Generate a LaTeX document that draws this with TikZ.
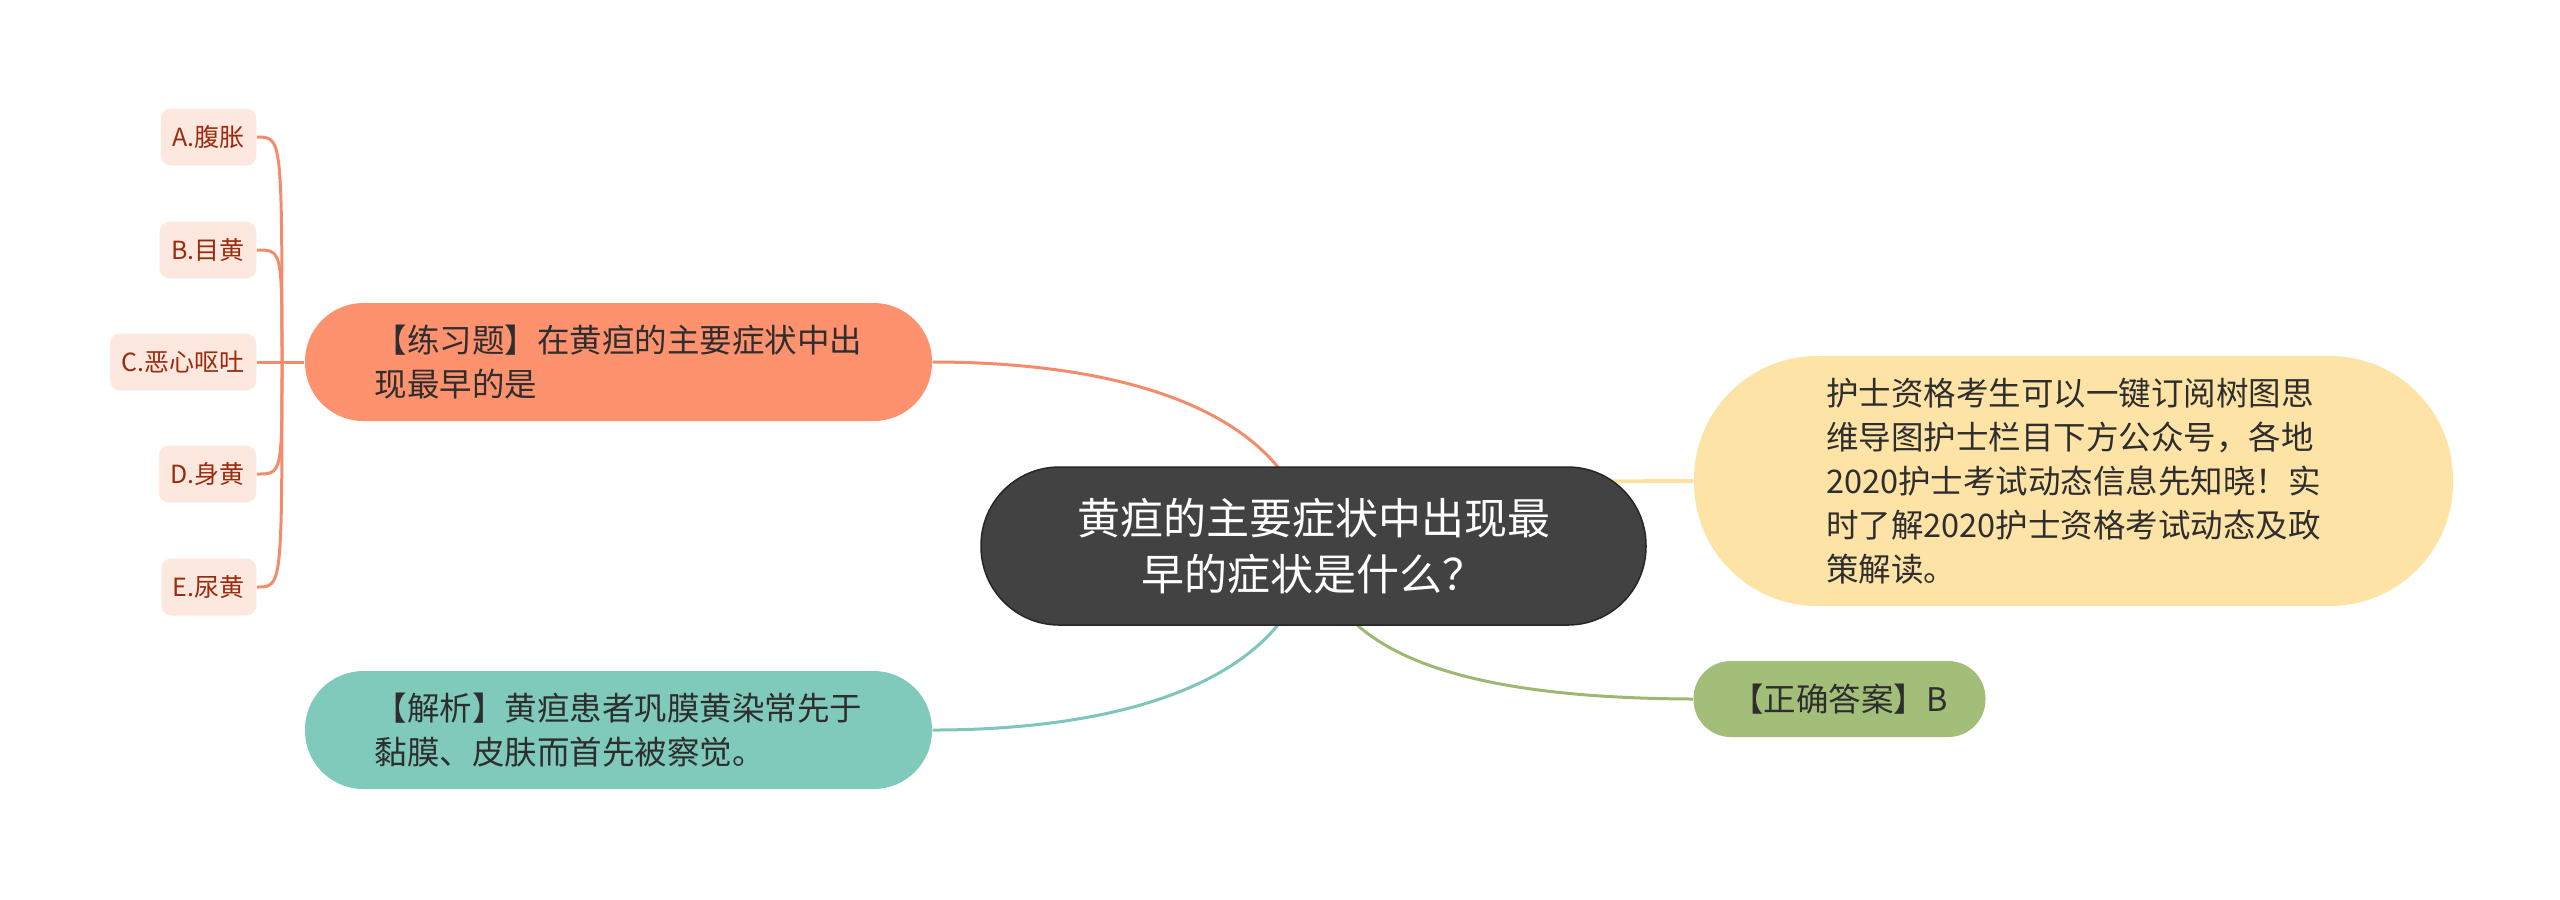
\documentclass[tikz,border=0pt]{standalone}
\usepackage{fontspec}
\setmainfont{Noto Sans CJK SC}
\usetikzlibrary{backgrounds}
\definecolor{topicfill}{HTML}{424242}
\definecolor{exfill}{HTML}{FE916E}
\definecolor{exline}{HTML}{F28C6C}
\definecolor{optfill}{HTML}{FDE8E0}
\definecolor{opttext}{HTML}{9C2B0E}
\definecolor{anfill}{HTML}{80CABC}
\definecolor{anline}{HTML}{7EC6B8}
\definecolor{yelfill}{HTML}{FEE3A7}
\definecolor{yelline}{HTML}{FCE2A2}
\definecolor{ansfill}{HTML}{A3BE78}
\definecolor{ansline}{HTML}{9DB870}
\definecolor{bodytext}{HTML}{2E2E2E}

\begin{document}
\begin{tikzpicture}
		[   x=0.3pt,y=-0.3pt,
		topic/.style={draw=black!85,line width=0.45pt,fill=topicfill,text=white,align=center,
			minimum width=199.5pt,minimum height=47.4pt,rounded corners=23.5pt,
			font=\fontsize{12.9pt}{16.8pt}\selectfont},
		bnode/.style={fill=#1,text=bodytext,align=left,inner sep=0pt,
			font=\fontsize{9.75pt}{13.2pt}\selectfont},
		opt/.style={fill=optfill,text=opttext,anchor=east,inner xsep=3.5pt,inner ysep=0pt,
			minimum height=17.1pt,rounded corners=3pt,font=\fontsize{7.5pt}{9pt}\selectfont},
		]
		\tikzset{branch line/.style={draw=#1,line width=0.9pt}}
		\useasboundingbox (0,0) rectangle (2560,899);
		
		\node[topic] (c) at (1313.5,546) {黄疸的主要症状中出现最\\早的症状是什么？};
		
		\node[bnode=exfill,minimum width=188.1pt,minimum height=35.4pt,rounded corners=17.5pt] (ex) at (618.5,362)
		{【练习题】在黄疸的主要症状中出\\现最早的是};
		\node[bnode=anfill,minimum width=188.1pt,minimum height=35.4pt,rounded corners=17.5pt] (an) at (618.5,730)
		{【解析】黄疸患者巩膜黄染常先于\\黏膜、皮肤而首先被察觉。};
		\node[bnode=yelfill,minimum width=227.7pt,minimum height=75pt,rounded corners=37pt] (yel) at (2073.5,481)
		{护士资格考生可以一键订阅树图思\\维导图护士栏目下方公众号，各地\\2020护士考试动态信息先知晓！实\\时了解2020护士资格考试动态及政\\策解读。};
		\node[bnode=ansfill,minimum width=87.6pt,minimum height=22.8pt,rounded corners=11.2pt] (ans) at (1839.5,699)
		{【正确答案】B};
		
		\coordinate (hub) at (282,362);
		
		\foreach \n/\txt/\y in {a/A.腹胀/137,b/B.目黄/250,c/C.恶心呕吐/362,d/D.身黄/474,e/E.尿黄/587}
		{
			\node[opt] (opt-\n) at (257,\y) {\txt};
		}
		
		\begin{scope}[on background layer]
			\foreach \n in {a,b,c,d,e}
			{
				\path[branch line=exline] (opt-\n.east) .. controls (hub |- opt-\n.east) .. (hub);
			}
			\path[branch line=exline] (hub) -- (ex.west);
			
			\path[branch line=exline] (c.center) .. controls (1290,400) and (1100,362) .. (ex.east);
			\path[branch line=anline] (c.center) .. controls (1290,692) and (1100,730) .. (an.east);
			\path[branch line=ansline] (c.center) .. controls (1330,650) and (1450,698) .. (ans.west);
			\path[branch line=yelline,line width=1.2pt] (c.center) .. controls (1450,482) .. (yel.west);
		\end{scope}
\end{tikzpicture}
\end{document}
